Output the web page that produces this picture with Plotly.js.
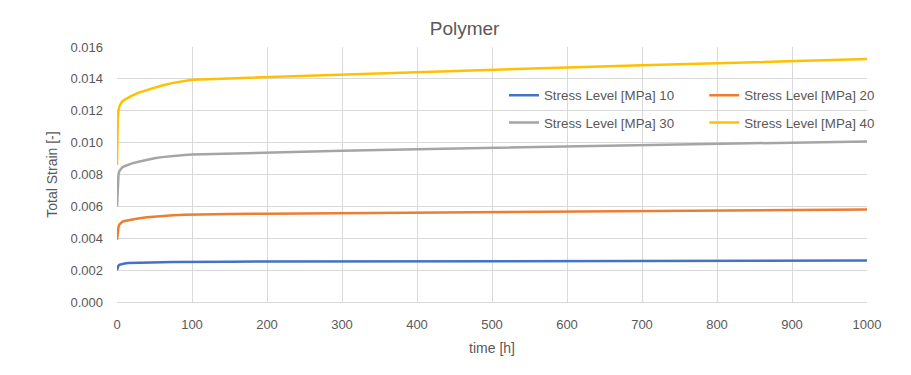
<!DOCTYPE html>
<html>
<head>
<meta charset="utf-8">
<script src="https://cdn.plot.ly/plotly-3.0.1.min.js"></script>
<style>html,body{margin:0;padding:0;background:#fff;}#chart{width:911px;height:375px;}</style>
</head>
<body>
<div id="chart"></div>
<script>
const time = [0, 0.5, 1, 2, 3, 5, 7, 10, 15, 20, 30, 40, 50, 60, 75, 90, 100, 150, 200, 300, 400, 500, 600, 700, 800, 900, 1000];
const stress10 = [0.00200, 0.00212, 0.00220, 0.00228, 0.00233, 0.00237, 0.00240, 0.00242, 0.00244, 0.00245, 0.00247, 0.00248, 0.00249, 0.00250, 0.00251, 0.00252, 0.00253, 0.00253, 0.00254, 0.00255, 0.00256, 0.00256, 0.00257, 0.00258, 0.00259, 0.00259, 0.00260];
const stress20 = [0.00390, 0.00420, 0.00445, 0.00470, 0.00485, 0.00495, 0.00503, 0.00508, 0.00513, 0.00517, 0.00525, 0.00532, 0.00537, 0.00541, 0.00545, 0.00548, 0.00549, 0.00552, 0.00554, 0.00557, 0.00561, 0.00564, 0.00568, 0.00571, 0.00575, 0.00578, 0.00581];
const stress30 = [0.00600, 0.00680, 0.00740, 0.00800, 0.00820, 0.00835, 0.00845, 0.00852, 0.00862, 0.00870, 0.00882, 0.00893, 0.00902, 0.00909, 0.00917, 0.00922, 0.00925, 0.00932, 0.00938, 0.00949, 0.00959, 0.00968, 0.00977, 0.00985, 0.00993, 0.01000, 0.01007];
const stress40 = [0.00860, 0.01050, 0.01150, 0.01200, 0.01225, 0.01245, 0.01258, 0.01268, 0.01282, 0.01295, 0.01315, 0.01330, 0.01345, 0.01358, 0.01375, 0.01388, 0.01394, 0.01403, 0.01411, 0.01428, 0.01443, 0.01458, 0.01472, 0.01486, 0.01499, 0.01512, 0.01524];
const seriesNames = ['Stress Level [MPa] 10', 'Stress Level [MPa] 20', 'Stress Level [MPa] 30', 'Stress Level [MPa] 40'];
const seriesColors = ['#4472C4', '#ED7D31', '#A5A5A5', '#FFC000'];
const seriesData = [stress10, stress20, stress30, stress40];
const legendColumn = ['legend', 'legend2', 'legend', 'legend2'];

const traces = seriesData.map((ys, i) => ({
  x: time, y: ys, type: 'scatter', mode: 'lines', name: seriesNames[i],
  legend: legendColumn[i], legendgroup: 'g' + i,
  line: {color: seriesColors[i], width: 2.5}
}));

const font = 'Liberation Sans, Arial, sans-serif';
const legendBase = {
  orientation: 'v', y: 0.87, xanchor: 'left', yanchor: 'top',
  bgcolor: 'rgba(0,0,0,0)', font: {size: 13.3, color: '#595959'},
  tracegroupgap: 7, itemwidth: 30
};
const layout = {
  width: 911, height: 375,
  margin: {l: 117, r: 44, t: 47, b: 73},
  paper_bgcolor: '#fff', plot_bgcolor: '#fff',
  font: {family: font, color: '#595959', size: 12},
  title: {text: 'Polymer', font: {size: 19, color: '#595959', family: font}, x: 0.51, xanchor: 'center', y: 0.925, yanchor: 'middle'},
  xaxis: {
    range: [0, 1000], dtick: 100, tick0: 0,
    showgrid: true, gridcolor: '#d9d9d9', gridwidth: 1,
    zeroline: false, showline: true, linecolor: '#d9d9d9', linewidth: 1,
    ticks: '', ticklabelstandoff: 10,
    title: {text: 'time [h]', font: {size: 14, color: '#595959'}, standoff: 12},
    tickfont: {size: 13, color: '#595959'}
  },
  yaxis: {
    range: [0, 0.016], dtick: 0.002, tick0: 0, tickformat: '.3f',
    showgrid: true, gridcolor: '#d9d9d9', gridwidth: 1,
    zeroline: false, showline: false,
    ticks: '', ticklabelstandoff: 13,
    title: {text: 'Total Strain [-]', font: {size: 14, color: '#595959'}, standoff: 9},
    tickfont: {size: 13, color: '#595959'}
  },
  showlegend: true,
  legend: Object.assign({}, legendBase, {x: 0.516}),
  legend2: Object.assign({}, legendBase, {x: 0.783})
};

Plotly.newPlot('chart', traces, layout, {displayModeBar: false, staticPlot: true});
</script>
</body>
</html>
